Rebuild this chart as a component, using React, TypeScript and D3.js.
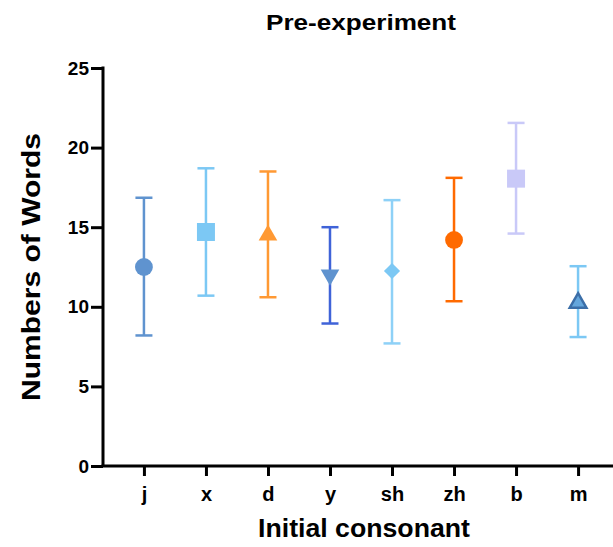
import React, { useEffect, useRef } from "react";
import * as d3 from "d3";

// data
const categories = ["j", "x", "d", "y", "sh", "zh", "b", "m"];
const means = [12.5, 14.7, 14.5, 12.0, 12.25, 14.2, 18.05, 10.25];
const upper = [16.85, 18.7, 18.5, 15.0, 16.7, 18.1, 21.55, 12.55];
const lower = [8.2, 10.7, 10.6, 8.95, 7.7, 10.35, 14.6, 8.1];
const yTicks = [0, 5, 10, 15, 20, 25];

const barColors = ["#5f93cf", "#7cc8f4", "#ff9933", "#3f63d8", "#8ed1f7", "#ff6a00", "#c9c9f8", "#7cc8f4"];
const markerColors = ["#5f93cf", "#7cc8f4", "#ff9933", "#5f93cf", "#7cc8f4", "#ff6a00", "#c9c9f8", "#64a6dc"];
const markerShapes = ["circle", "square", "triangle", "triangleDown", "diamond", "circle", "square", "triangleOutline"];

const App = () => {
  const ref = useRef<SVGSVGElement>(null);

  useEffect(() => {
    const svg = d3.select(ref.current);
    svg.selectAll("*").remove();

    const font = "'Liberation Sans', Arial, sans-serif";

    // scales
    const xScale = d3.scalePoint().domain(categories).range([103, 619]).padding(0.66);
    const yScale = d3.scaleLinear().domain([0, 25]).range([466, 68]);

    // title
    svg
      .append("text")
      .attr("x", 361)
      .attr("y", 30)
      .attr("text-anchor", "middle")
      .attr("font-family", font)
      .attr("font-weight", "bold")
      .attr("font-size", "22px")
      .attr("textLength", 190)
      .attr("lengthAdjust", "spacingAndGlyphs")
      .text("Pre-experiment");

    // y axis
    const yAxis = svg
      .append("g")
      .attr("transform", `translate(103,0)`)
      .call(d3.axisLeft(yScale).tickValues(yTicks).tickSize(12).tickPadding(2).tickSizeOuter(0));
    yAxis.select(".domain").attr("stroke", "#000").attr("stroke-width", 3).attr("d", `M0,${yScale(0)}V${yScale(25) - 1.5}`);
    yAxis.selectAll(".tick line").attr("stroke", "#000").attr("stroke-width", 3);
    yAxis
      .selectAll(".tick text")
      .attr("font-family", font)
      .attr("font-weight", "bold")
      .attr("font-size", "19px")
      .attr("fill", "#000");

    // x axis
    const xAxis = svg
      .append("g")
      .attr("transform", `translate(0,${yScale(0)})`)
      .call(d3.axisBottom(xScale).tickSize(10).tickPadding(11).tickSizeOuter(0));
    xAxis.select(".domain").attr("stroke", "#000").attr("stroke-width", 3).attr("d", "M101.5,0H620");
    xAxis.selectAll(".tick line").attr("stroke", "#000").attr("stroke-width", 3);
    xAxis
      .selectAll(".tick text")
      .attr("font-family", font)
      .attr("font-weight", "bold")
      .attr("font-size", "20px")
      .attr("fill", "#000");

    // axis titles
    svg
      .append("text")
      .attr("x", 364)
      .attr("y", 537)
      .attr("text-anchor", "middle")
      .attr("font-family", font)
      .attr("font-weight", "bold")
      .attr("font-size", "25px")
      .attr("textLength", 212)
      .attr("lengthAdjust", "spacingAndGlyphs")
      .text("Initial consonant");

    svg
      .append("text")
      .attr("transform", `translate(40,${(yScale(0) + yScale(25)) / 2}) rotate(-90)`)
      .attr("text-anchor", "middle")
      .attr("font-family", font)
      .attr("font-weight", "bold")
      .attr("font-size", "26px")
      .attr("textLength", 268)
      .attr("lengthAdjust", "spacingAndGlyphs")
      .text("Numbers of Words");

    // error bars
    const g = svg.append("g");
    categories.forEach((c, i) => {
      const cx = xScale(c) as number;
      const color = barColors[i];
      g.append("line")
        .attr("x1", cx)
        .attr("x2", cx)
        .attr("y1", yScale(upper[i]))
        .attr("y2", yScale(lower[i]))
        .attr("stroke", color)
        .attr("stroke-width", 2.5);
      [upper[i], lower[i]].forEach((v) => {
        g.append("line")
          .attr("x1", cx - 8.5)
          .attr("x2", cx + 8.5)
          .attr("y1", yScale(v))
          .attr("y2", yScale(v))
          .attr("stroke", color)
          .attr("stroke-width", 2.5);
      });
    });

    // markers
    categories.forEach((c, i) => {
      const cx = xScale(c) as number;
      const cy = yScale(means[i]);
      const shape = markerShapes[i];
      let sym: d3.SymbolType = d3.symbolCircle;
      let size = 250;
      let rot = 0;
      if (shape === "square") {
        sym = d3.symbolSquare;
        size = 324;
      } else if (shape === "triangle") {
        sym = d3.symbolTriangle;
        size = 150;
      } else if (shape === "triangleDown") {
        sym = d3.symbolTriangle;
        size = 150;
        rot = 180;
      } else if (shape === "diamond") {
        sym = d3.symbolSquare;
        size = 130;
        rot = 45;
      } else if (shape === "triangleOutline") {
        sym = d3.symbolTriangle;
        size = 120;
      }
      const p = g
        .append("path")
        .attr("d", d3.symbol().type(sym).size(size)())
        .attr("transform", `translate(${cx},${cy}) rotate(${rot})`)
        .attr("fill", markerColors[i]);
      if (shape === "triangleOutline") {
        p.attr("stroke", "#3b6ea8").attr("stroke-width", 2.5).attr("stroke-linejoin", "miter");
      }
    });
  }, []);

  return (
    <svg
      ref={ref}
      width={613}
      height={547}
      style={{ position: "absolute", left: 0, top: 0, background: "#fff" }}
    />
  );
};

export default App;
